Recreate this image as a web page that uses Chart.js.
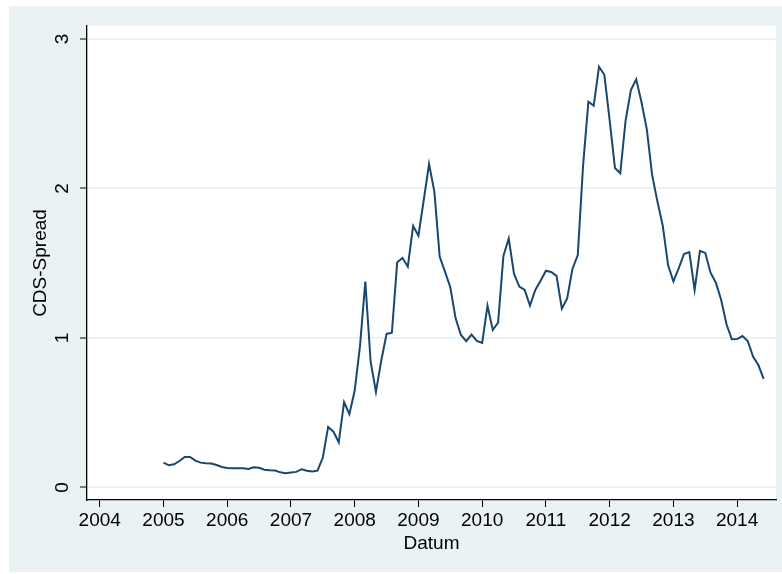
<!DOCTYPE html>
<html>
<head>
<meta charset="utf-8">
<script src="https://cdn.jsdelivr.net/npm/chart.js@4"></script>
<style>
  html, body { margin: 0; padding: 0; background: #fff; }
  #wrap { width: 782px; height: 574px; }
</style>
</head>
<body>
<div id="wrap"><canvas id="grafikCds" width="782" height="574"></canvas></div>
<script>
// CDS-Spread, monatlich (Jan 2005 - Jun 2014)
const cds2005 = [0.166, 0.148, 0.155, 0.177, 0.204, 0.204, 0.179, 0.166, 0.162, 0.160, 0.150, 0.137];
const cds2006 = [0.130, 0.128, 0.128, 0.128, 0.124, 0.135, 0.132, 0.119, 0.115, 0.113, 0.101, 0.095];
const cds2007 = [0.100, 0.104, 0.122, 0.112, 0.106, 0.112, 0.200, 0.405, 0.373, 0.302, 0.570, 0.490];
const cds2008 = [0.648, 0.947, 1.377, 0.841, 0.639, 0.848, 1.027, 1.035, 1.506, 1.535, 1.477, 1.749];
const cds2009 = [1.684, 1.923, 2.164, 1.979, 1.544, 1.444, 1.339, 1.131, 1.020, 0.978, 1.022, 0.980];
const cds2010 = [0.967, 1.216, 1.054, 1.103, 1.549, 1.665, 1.428, 1.343, 1.321, 1.216, 1.321, 1.383];
const cds2011 = [1.450, 1.441, 1.415, 1.196, 1.265, 1.462, 1.555, 2.155, 2.581, 2.554, 2.815, 2.761];
const cds2012 = [2.458, 2.137, 2.102, 2.454, 2.659, 2.730, 2.577, 2.396, 2.090, 1.912, 1.751, 1.488];
const cds2013 = [1.379, 1.466, 1.562, 1.575, 1.321, 1.582, 1.569, 1.437, 1.370, 1.254, 1.092, 0.991];
const cds2014 = [0.993, 1.013, 0.980, 0.875, 0.819, 0.726];

const jahre = [2005, 2006, 2007, 2008, 2009, 2010, 2011, 2012, 2013, 2014];
const werteProJahr = [cds2005, cds2006, cds2007, cds2008, cds2009, cds2010, cds2011, cds2012, cds2013, cds2014];

// Achsenbeschriftungen
const xTicks = [2004, 2005, 2006, 2007, 2008, 2009, 2010, 2011, 2012, 2013, 2014];
const yTicks = [0, 1, 2, 3];

// Punkte: Datum als Dezimaljahr (Monat m -> jahr + m/12)
const punkte = [];
werteProJahr.forEach(function (werte, j) {
  werte.forEach(function (v, m) {
    punkte.push({ x: jahre[j] + m / 12, y: v });
  });
});

const schrift = '"Liberation Sans", Arial, sans-serif';
const bgStata = '#eaf2f3';

// Hintergrund wie bei Stata s2color
const hintergrund = {
  id: 'hintergrund',
  beforeDraw(chart) {
    const ctx = chart.ctx;
    const a = chart.chartArea;
    ctx.save();
    ctx.fillStyle = '#fff';
    ctx.fillRect(0, 0, chart.width, chart.height);
    ctx.fillStyle = bgStata;
    ctx.fillRect(9, 6, chart.width - 9, 566);
    ctx.fillStyle = '#fff';
    ctx.fillRect(a.left, a.top, a.right - a.left, a.bottom - a.top);
    ctx.restore();
  }
};

// y-Beschriftungen senkrecht (wie im Original)
const yBeschriftung = {
  id: 'yBeschriftung',
  afterDraw(chart) {
    const s = chart.scales.y;
    const ctx = chart.ctx;
    ctx.save();
    ctx.font = '19px ' + schrift;
    ctx.fillStyle = '#000';
    ctx.textAlign = 'center';
    ctx.textBaseline = 'middle';
    s.ticks.forEach(function (t) {
      const y = s.getPixelForValue(t.value);
      ctx.save();
      ctx.translate(63, y);
      ctx.rotate(-Math.PI / 2);
      ctx.fillText(String(t.value), 0, 0);
      ctx.restore();
    });
    ctx.restore();
  }
};

const ctxCds = document.getElementById('grafikCds');
if (ctxCds) {
  new Chart(ctxCds, {
    type: 'line',
    data: {
      datasets: [{
        label: 'CDS-Spread',
        data: punkte,
        borderColor: '#1a476f',
        borderWidth: 2,
        pointRadius: 0,
        tension: 0,
        fill: false
      }]
    },
    options: {
      responsive: false,
      animation: false,
      devicePixelRatio: 1,
      layout: { padding: { left: 0, top: 26, right: 6, bottom: 0 } },
      plugins: {
        legend: { display: false },
        tooltip: { enabled: false }
      },
      scales: {
        x: {
          type: 'linear',
          min: 2003.8,
          max: 2014.61,
          afterBuildTicks: function (s) { s.ticks = xTicks.map(v => ({ value: v })); },
          afterFit: function (s) { s.height = 74; },
          grid: { drawOnChartArea: false, drawTicks: true, tickLength: 7, tickColor: '#000', tickWidth: 1 },
          border: { display: true, color: '#000', width: 1.3 },
          ticks: {
            color: '#000',
            font: { family: schrift, size: 19 },
            padding: 2,
            maxRotation: 0,
            autoSkip: false,
            callback: v => String(v)
          },
          title: {
            display: true,
            text: 'Datum',
            color: '#000',
            font: { family: schrift, size: 19 },
            padding: { top: 0, bottom: 19 }
          }
        },
        y: {
          min: -0.084,
          max: 3.087,
          afterBuildTicks: function (s) { s.ticks = yTicks.map(v => ({ value: v })); },
          afterFit: function (s) { s.width = 87; },
          grid: { color: bgStata, lineWidth: 2, drawTicks: true, tickLength: 7, tickColor: '#000', tickWidth: 1 },
          border: { display: true, color: '#000', width: 1.3 },
          ticks: { display: false },
          title: {
            display: true,
            text: 'CDS-Spread',
            color: '#000',
            font: { family: schrift, size: 19 },
            padding: { top: 29, bottom: 0 }
          }
        }
      }
    },
    plugins: [hintergrund, yBeschriftung]
  });
}
</script>
</body>
</html>
